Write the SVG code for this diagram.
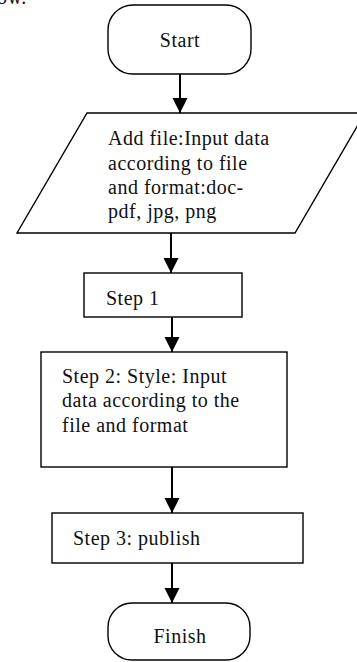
<svg xmlns="http://www.w3.org/2000/svg" width="357" height="662" viewBox="0 0 357 662">
<style>
.shape{fill:#fff;stroke:#000;stroke-width:1.4}
.t{font-family:"Liberation Serif","Times New Roman",serif;font-size:20px;letter-spacing:0.5px;fill:#111}
.c{text-anchor:middle}
.conn{stroke:#000;stroke-width:2;fill:none}
</style>
<defs>
<marker id="ah" markerUnits="userSpaceOnUse" markerWidth="16" markerHeight="16" refX="15" refY="8" orient="auto">
<path d="M0,0.5 L15,8 L0,15.5 Z" fill="#000"/>
</marker>
</defs>
<text class="t" x="-3" y="4">ow.</text>
<g id="connectors">
<line class="conn" x1="180" y1="74" x2="180" y2="113" marker-end="url(#ah)"/>
<line class="conn" x1="171" y1="233" x2="171" y2="273" marker-end="url(#ah)"/>
<line class="conn" x1="172" y1="317" x2="172" y2="352" marker-end="url(#ah)"/>
<line class="conn" x1="172" y1="467" x2="172" y2="513" marker-end="url(#ah)"/>
<line class="conn" x1="172" y1="563" x2="172" y2="603" marker-end="url(#ah)"/>
</g>
<g id="start">
<rect class="shape" x="108" y="5" width="143" height="69" rx="25" ry="25"/>
<text class="t c" x="180" y="47">Start</text>
</g>
<g id="input">
<polygon class="shape" points="87,113 365,113 295,233 17,233"/>
<text class="t" x="108" y="145">Add file:Input data</text>
<text class="t" x="108" y="170">according to file</text>
<text class="t" x="108" y="194">and format:doc-</text>
<text class="t" x="108" y="218">pdf, jpg, png</text>
</g>
<g id="step1">
<rect class="shape" x="84" y="273" width="158" height="44"/>
<text class="t" x="106" y="305">Step 1</text>
</g>
<g id="step2">
<rect class="shape" x="41" y="352" width="246" height="115"/>
<text class="t" x="62" y="383">Step 2: Style: Input</text>
<text class="t" x="62" y="407">data according to the</text>
<text class="t" x="62" y="432">file and format</text>
</g>
<g id="step3">
<rect class="shape" x="52" y="513" width="251" height="50"/>
<text class="t" x="73" y="545">Step 3: publish</text>
</g>
<g id="finish">
<rect class="shape" x="108" y="603" width="142" height="57" rx="24" ry="24"/>
<text class="t c" x="180" y="643">Finish</text>
</g>
</svg>
